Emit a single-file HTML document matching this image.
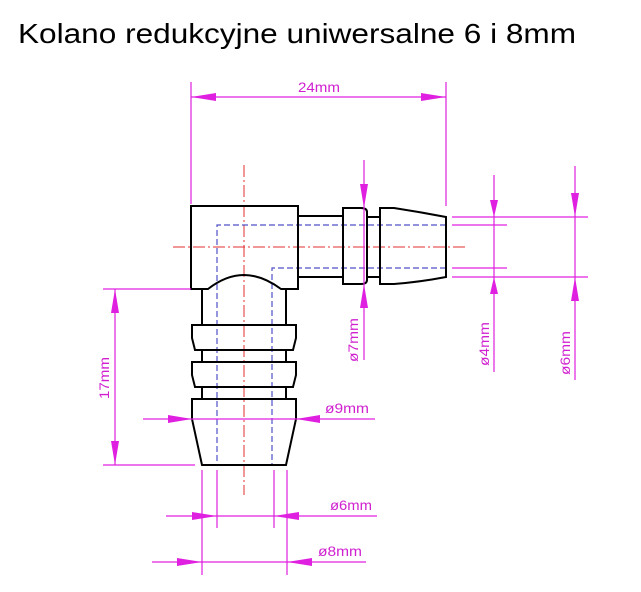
<!DOCTYPE html>
<html><head><meta charset="utf-8"><style>
html,body{margin:0;padding:0;background:#fff;}
svg{display:block;}
</style></head><body>
<svg width="641" height="592" viewBox="0 0 641 592" xmlns="http://www.w3.org/2000/svg">
<text x="18" y="43" font-family="Liberation Sans, sans-serif" font-size="28" fill="#000" textLength="558" lengthAdjust="spacingAndGlyphs">Kolano redukcyjne uniwersalne 6 i 8mm</text>

<!-- center lines -->
<g stroke="#e03030" stroke-width="1" stroke-dasharray="12,3,2,3" fill="none">
<line x1="173" y1="247" x2="466" y2="247"/>
<line x1="244" y1="165" x2="244" y2="495"/>
</g>
<!-- hidden lines -->
<g stroke="#5050c8" stroke-width="1.2" stroke-dasharray="6,3" fill="none">
<polyline points="446,225 217,225 217,465"/>
<polyline points="446,268 272,268 272,465"/>
</g>

<!-- part outline -->
<g stroke="#000" stroke-width="2" fill="none" stroke-linejoin="miter">
<path d="M191,206 H298 V289 H281 Q262,275 244,275 Q226,275 208,289 H191 Z"/>
<line x1="298" y1="216" x2="343" y2="216"/>
<line x1="298" y1="277" x2="343" y2="277"/>
<path d="M343,208 H361 Q367,208 367,212 V280 Q367,284 361,284 H343 Z"/>
<line x1="367" y1="217" x2="380" y2="217"/>
<line x1="367" y1="277" x2="380" y2="277"/>
<path d="M380,208 H394 Q420,212 446,217 V277 Q420,282 394,284 H380 Z"/>
<!-- stem -->
<line x1="202" y1="289" x2="202" y2="325"/>
<line x1="286" y1="289" x2="286" y2="325"/>
<path d="M192,325 H296 V338 L293,350 H195 L192,338 Z"/>
<line x1="202" y1="350" x2="202" y2="362"/>
<line x1="286" y1="350" x2="286" y2="362"/>
<path d="M192,362 H296 V375 L293,387 H195 L192,375 Z"/>
<line x1="202" y1="387" x2="202" y2="399"/>
<line x1="286" y1="387" x2="286" y2="399"/>
<path d="M192,399 H296 V419 L286,465 H202 L192,419 Z"/>
</g>

<!-- dimensions -->
<g stroke="#e020e0" stroke-width="1.2" fill="none">
<!-- 24mm -->
<line x1="191" y1="82" x2="191" y2="204"/>
<line x1="446" y1="82" x2="446" y2="206"/>
<line x1="191" y1="97" x2="446" y2="97"/>
<!-- 7mm -->
<line x1="364" y1="160" x2="364" y2="360"/>
<!-- right extension -->
<line x1="452" y1="217" x2="588" y2="217"/>
<line x1="452" y1="225" x2="507" y2="225"/>
<line x1="452" y1="268" x2="507" y2="268"/>
<line x1="452" y1="277" x2="588" y2="277"/>
<line x1="494" y1="175" x2="494" y2="372"/>
<line x1="575" y1="166" x2="575" y2="380"/>
<!-- 17mm -->
<line x1="103" y1="289" x2="191" y2="289"/>
<line x1="103" y1="465" x2="195" y2="465"/>
<line x1="115" y1="289" x2="115" y2="465"/>
<!-- 9mm -->
<line x1="143" y1="419" x2="375" y2="419"/>
<!-- bottom -->
<line x1="202" y1="470" x2="202" y2="575"/>
<line x1="287" y1="470" x2="287" y2="575"/>
<line x1="217" y1="470" x2="217" y2="528"/>
<line x1="274" y1="470" x2="274" y2="528"/>
<line x1="166" y1="516" x2="377" y2="516"/>
<line x1="152" y1="562" x2="366" y2="562"/>
</g>
<g fill="#e020e0">
<polygon points="191,97 216,93 216,101"/>
<polygon points="446,97 421,93 421,101"/>
<polygon points="364,208 360,184 368,184"/>
<polygon points="364,284 360,308 368,308"/>
<polygon points="494,217 490,200 498,200"/>
<polygon points="494,277 490,294 498,294"/>
<polygon points="575,217 571,193 579,193"/>
<polygon points="575,277 571,301 579,301"/>
<polygon points="115,289 111,313 119,313"/>
<polygon points="115,465 111,441 119,441"/>
<polygon points="192,419 168,415 168,423"/>
<polygon points="296,419 320,415 320,423"/>
<polygon points="217,516 192,512 192,520"/>
<polygon points="274,516 299,512 299,520"/>
<polygon points="202,562 177,558 177,566"/>
<polygon points="287,562 312,558 312,566"/>
</g>
<g fill="#d020d0" font-family="Liberation Sans, sans-serif" font-size="14">
<text x="298" y="92" textLength="42" lengthAdjust="spacingAndGlyphs">24mm</text>
<text x="325" y="413" textLength="44" lengthAdjust="spacingAndGlyphs">ø9mm</text>
<text x="330" y="510" textLength="42" lengthAdjust="spacingAndGlyphs">ø6mm</text>
<text x="318" y="556" textLength="44" lengthAdjust="spacingAndGlyphs">ø8mm</text>
<text transform="translate(109,399) rotate(-90)" textLength="42" lengthAdjust="spacingAndGlyphs">17mm</text>
<text transform="translate(358,362) rotate(-90)" textLength="44" lengthAdjust="spacingAndGlyphs">ø7mm</text>
<text transform="translate(489,366) rotate(-90)" textLength="44" lengthAdjust="spacingAndGlyphs">ø4mm</text>
<text transform="translate(570,375) rotate(-90)" textLength="44" lengthAdjust="spacingAndGlyphs">ø6mm</text>
</g>
</svg>
</body></html>
